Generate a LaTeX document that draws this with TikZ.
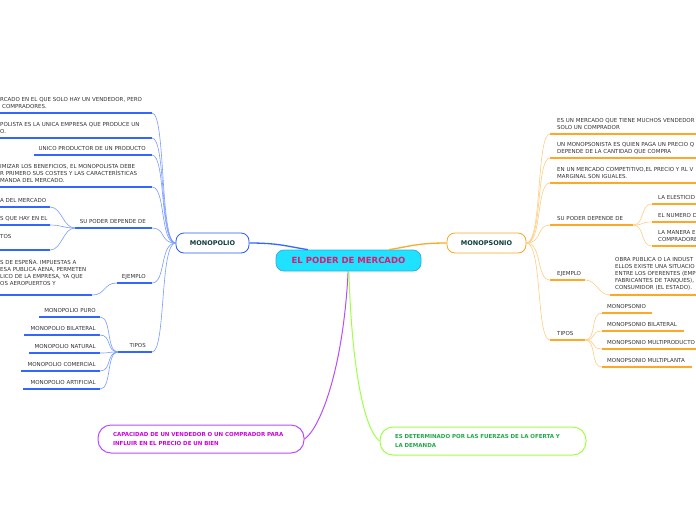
\documentclass[tikz,border=0pt]{standalone}
\usepackage{fontspec}
\setmainfont{DejaVu Sans}
\usetikzlibrary{calc}
\definecolor{PoderFill}{RGB}{30,226,255}
\definecolor{PoderDraw}{RGB}{60,170,220}
\definecolor{PoderText}{RGB}{232,20,110}
\definecolor{PoloClr}{RGB}{40,90,245}
\definecolor{PoloLine}{RGB}{51,102,255}
\definecolor{PoloThin}{RGB}{120,155,255}
\definecolor{PsoClr}{RGB}{245,166,35}
\definecolor{PsoLine}{RGB}{255,167,38}
\definecolor{PsoThin}{RGB}{255,205,130}
\definecolor{TitleClr}{RGB}{15,60,60}
\definecolor{LeafClr}{RGB}{50,50,50}
\definecolor{CapClr}{RGB}{185,76,255}
\definecolor{CapText}{RGB}{204,0,221}
\definecolor{FuerClr}{RGB}{160,255,70}
\definecolor{FuerText}{RGB}{30,170,70}

\begin{document}
\begin{tikzpicture}[x=1pt,y=-1pt,
  leaf/.style={anchor=south west,inner sep=0pt,align=left,text depth=0pt,
    font=\fontsize{5.5}{7}\selectfont,text=LeafClr},
  leafr/.style={leaf,anchor=south east,align=right},
  polo/.style={line width=1.5pt,PoloLine},
  polothin/.style={line width=.6pt,PoloThin},
  pso/.style={line width=1.5pt,PsoLine},
  psothin/.style={line width=.6pt,PsoThin},
  topic/.style={draw,line width=.8pt,rounded corners=8pt,fill=white,minimum height=20pt,
    font=\bfseries\fontsize{6.5}{8}\selectfont,text=TitleClr},
  note/.style={draw,line width=1pt,rounded corners=13pt,minimum width=206pt,minimum height=28pt,
    inner xsep=15pt,text width=176pt,align=left,font=\bfseries\fontsize{5.5}{9}\selectfont}]
\useasboundingbox (0,0) rectangle (696,520);
\clip (0,0) rectangle (696,520);

\node[draw=PoderDraw,line width=.8pt,fill=PoderFill,rounded corners=8pt,minimum width=145pt,
  minimum height=21pt,text=PoderText,font=\bfseries\fontsize{8.5}{10}\selectfont] (poder) at (348.5,260.5) {EL PODER DE MERCADO};
\node[topic,draw=PoloClr,minimum width=73pt] (monopolio) at (212.5,243) {MONOPOLIO};
\node[topic,draw=PsoClr,minimum width=79pt] (monopsonio) at (486.5,243) {MONOPSONIO};
\node[note,draw=CapClr,text=CapText] (capacidad) at (201,439) {CAPACIDAD DE UN VENDEDOR O UN COMPRADOR PARA\\INFLUIR EN EL PRECIO DE UN BIEN};
\node[note,draw=FuerClr,text=FuerText] (fuerzas) at (483,441) {ES DETERMINADO POR LAS FUERZAS DE LA OFERTA Y\\LA DEMANDA};

\draw[line width=1.3pt,PoloLine] (monopolio.east) .. controls +(30,0) and +(-20,-3) .. (poder.165);
\draw[line width=1.3pt,PsoLine] (monopsonio.west) .. controls +(-30,0) and +(20,-3) .. (poder.15);
\draw[line width=1pt,CapClr] (poder.-92) .. controls +(-5,100) and +(15,-10) .. (capacidad.east);
\draw[line width=1pt,FuerClr] (poder.-88) .. controls +(3,100) and +(-15,-12) .. (fuerzas.west);

\coordinate (a1w) at (-1,113); \coordinate (a1) at (152,113);
\coordinate (a2w) at (-1,138); \coordinate (a2) at (152,138);
\coordinate (a3w) at (34,155); \coordinate (a3) at (152,155);
\coordinate (a4w) at (-1,187); \coordinate (a4) at (152,187);
\coordinate (a5w) at (75,228); \coordinate (a5) at (152,228);
\coordinate (a6w) at (117,283); \coordinate (a6) at (152,283);
\coordinate (a7w) at (118,352); \coordinate (a7) at (152,352);

\foreach \p in {a1,a2,a3,a4,a5,a6,a7}{
  \draw[polo] (\p w) -- (\p);
  \draw[polothin] (monopolio.west) .. controls +(-16,0) and +(14,0) .. (\p);
}
\node[leaf] (mercado) at (0,109) {RCADO EN EL QUE SOLO HAY UN VENDEDOR, PERO\\\hspace*{2pt}COMPRADORES.};
\node[leaf] (empresa) at (0,134) {POLISTA ES LA UNICA EMPRESA QUE PRODUCE UN\\O.};
\node[leafr] (unico) at (146,151) {UNICO PRODUCTOR DE UN PRODUCTO};
\node[leaf] (beneficios) at (0,183) {IMIZAR LOS BENEFICIOS, EL MONOPOLISTA DEBE\\R PRIMERO SUS COSTES Y LAS CARACTERÍSTICAS\\MANDA DEL MERCADO.};
\node[leafr] (poderpolo) at (146,224) {SU PODER DEPENDE DE};
\node[leafr] (ejemplopolo) at (146,279) {EJEMPLO};
\node[leafr] (tipospolo) at (146,348) {TIPOS};

\coordinate (c1w) at (-1,207); \coordinate (c1) at (50,207);
\coordinate (c2w) at (-1,225); \coordinate (c2) at (50,225);
\coordinate (c3w) at (-1,250); \coordinate (c3) at (50,250);
\foreach \p in {c1,c2,c3}{
  \draw[polo] (\p w) -- (\p);
  \draw[polothin] (a5w) .. controls +(-12,0) and +(12,0) .. (\p);
}
\node[leaf] (demanda) at (0,203) {A DEL MERCADO};
\node[leaf] (hay) at (0,221) {S QUE HAY EN EL};
\node[leaf] (tos) at (0,239) {TOS};

\coordinate (d1w) at (-1,295); \coordinate (d1) at (92,295);
\draw[polo] (d1w) -- (d1);
\draw[polothin] (a6w) .. controls +(-14,0) and +(14,0) .. (d1);
\node[leaf] (aena) at (0,286) {S DE ESPEÑA. IMPUESTAS A\\ESA PUBLICA AENA, PERMETEN\\LICO DE LA EMPRESA, YA QUE\\OS AEROPUERTOS Y};

\coordinate (e1w) at (39,317); \coordinate (e1) at (100,317);
\coordinate (e2w) at (24,335); \coordinate (e2) at (100,335);
\coordinate (e3w) at (29,353); \coordinate (e3) at (100,353);
\coordinate (e4w) at (21,371); \coordinate (e4) at (100,371);
\coordinate (e5w) at (23,389); \coordinate (e5) at (100,389);
\foreach \p in {e1,e2,e3,e4,e5}{
  \draw[polo] (\p w) -- (\p);
  \draw[polothin] (a7w) .. controls +(-12,0) and +(12,0) .. (\p);
}
\node[leafr] (puro) at (96,313) {MONOPOLIO PURO};
\node[leafr] (bilateral) at (96,331) {MONOPOLIO BILATERAL};
\node[leafr] (natural) at (96,349) {MONOPOLIO NATURAL};
\node[leafr] (comercial) at (96,367) {MONOPOLIO COMERCIAL};
\node[leafr] (artificial) at (96,385) {MONOPOLIO ARTIFICIAL};

\coordinate (b1) at (550,134); \coordinate (b1e) at (697,134);
\coordinate (b2) at (550,158); \coordinate (b2e) at (697,158);
\coordinate (b3) at (550,183); \coordinate (b3e) at (697,183);
\coordinate (b4) at (550,225); \coordinate (b4e) at (633,225);
\coordinate (b5) at (550,280); \coordinate (b5e) at (585,280);
\coordinate (b6) at (550,340); \coordinate (b6e) at (585,340);
\foreach \p in {b1,b2,b3,b4,b5,b6}{
  \draw[pso] (\p) -- (\p e);
  \draw[psothin] (monopsonio.east) .. controls +(16,0) and +(-14,0) .. (\p);
}
\node[leaf] (vendedores) at (557,130) {ES UN MERCADO QUE TIENE MUCHOS VENDEDOR\\SOLO UN COMPRADOR};
\node[leaf] (monopsonista) at (557,154) {UN MONOPSONISTA ES QUIEN PAGA UN PRECIO Q\\DEPENDE DE LA CANTIDAD QUE COMPRA};
\node[leaf] (competitivo) at (557,179) {EN UN MERCADO COMPETITIVO,EL PRECIO Y RL V\\MARGINAL SON IGUALES.};
\node[leaf] (poderpso) at (557,221) {SU PODER DEPENDE DE};
\node[leaf] (ejemplopso) at (557,276) {EJEMPLO};
\node[leaf] (tipospso) at (557,336) {TIPOS};

\coordinate (f1) at (652,204); \coordinate (f1e) at (697,204);
\coordinate (f2) at (652,222); \coordinate (f2e) at (697,222);
\coordinate (f3) at (652,246); \coordinate (f3e) at (697,246);
\foreach \p in {f1,f2,f3}{
  \draw[pso] (\p) -- (\p e);
  \draw[psothin] (b4e) .. controls +(12,0) and +(-12,0) .. (\p);
}
\node[leaf] (elasticidad) at (658,200) {LA ELESTICID};
\node[leaf] (numero) at (658,218) {EL NUMERO D};
\node[leaf] (manera) at (658,242) {LA MANERA E\\COMPRADORE};

\coordinate (g1) at (610,295); \coordinate (g1e) at (697,295);
\draw[pso] (g1) -- (g1e);
\draw[psothin] (b5e) .. controls +(12,0) and +(-12,0) .. (g1);
\node[leaf] (obra) at (615,290) {OBRA PUBLICA O LA INDUST\\ELLOS EXISTE UNA SITUACIO\\ENTRE LOS OFERENTES (EMP\\FABRICANTES DE TANQUES),\\CONSUMIDOR (EL ESTADO).};

\coordinate (h1) at (602,313); \coordinate (h1e) at (652,313);
\coordinate (h2) at (602,331); \coordinate (h2e) at (684,331);
\coordinate (h3) at (602,349); \coordinate (h3e) at (697,349);
\coordinate (h4) at (602,367); \coordinate (h4e) at (692,367);
\foreach \p in {h1,h2,h3,h4}{
  \draw[pso] (\p) -- (\p e);
  \draw[psothin] (b6e) .. controls +(12,0) and +(-12,0) .. (\p);
}
\node[leaf] (monopsonio1) at (607,309) {MONOPSONIO};
\node[leaf] (bilateralpso) at (607,327) {MONOPSONIO BILATERAL};
\node[leaf] (multiproducto) at (607,345) {MONOPSONIO MULTIPRODUCTO};
\node[leaf] (multiplanta) at (607,363) {MONOPSONIO MULTIPLANTA};

\end{tikzpicture}
\end{document}
